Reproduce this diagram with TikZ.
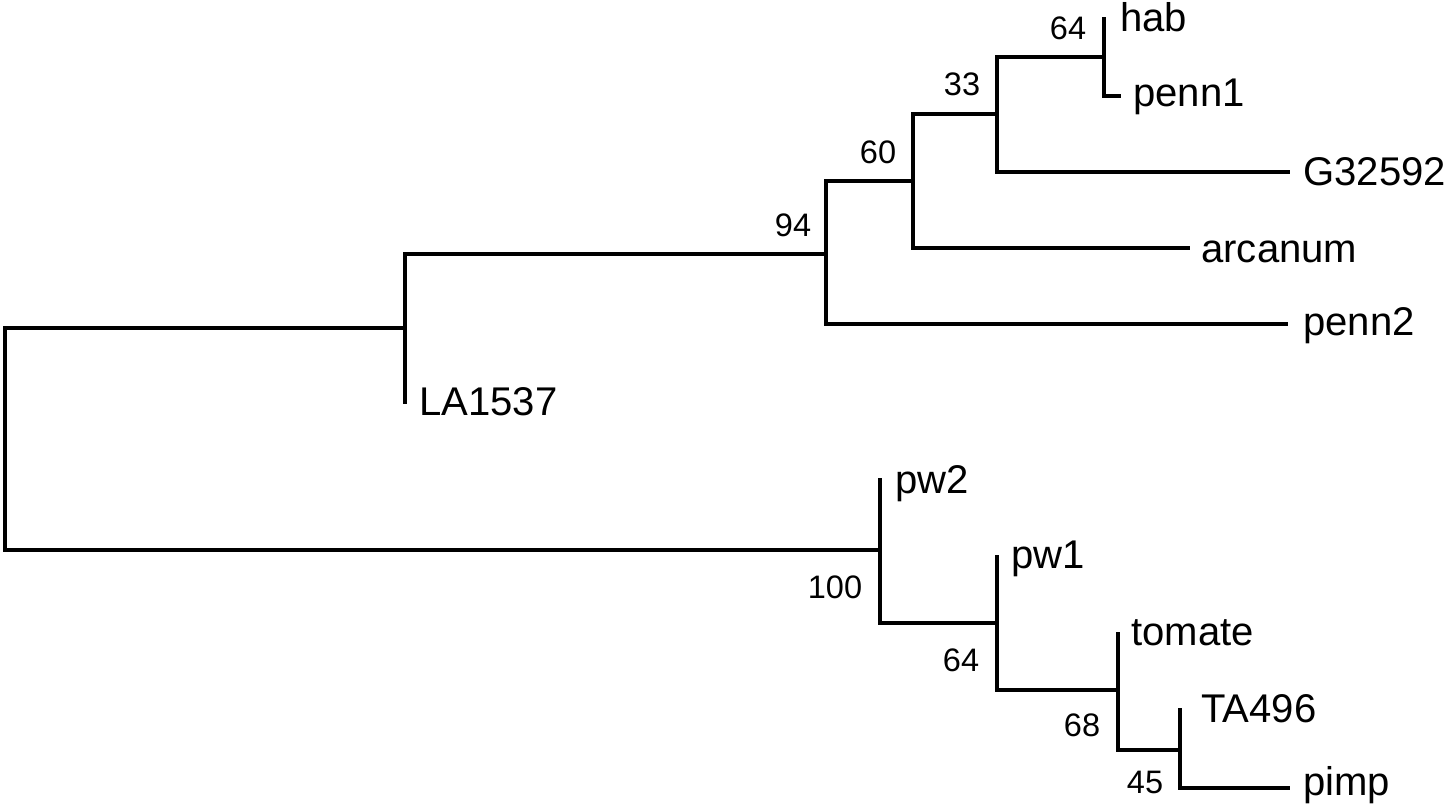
\documentclass[tikz,border=0pt]{standalone}
\usepackage{fontspec}
\setmainfont{Liberation Sans}
\usetikzlibrary{positioning, calc}

\tikzset{
  branch/.style={line width=2pt},
  taxon/.style={anchor=base west, inner sep=0pt, font=\fontsize{22.8}{27}\selectfont},
  boot/.style={inner sep=0pt, font=\fontsize{18.5}{22}\selectfont}
}

\begin{document}
\begin{tikzpicture}[x=0.02cm, y=-0.02cm]
	\useasboundingbox (0,0) rectangle (1453,811);
	% inner nodes
	\coordinate (root) at (5,440);
	\coordinate (nA) at (405,328);
	\coordinate (nB) at (826,254);
	\coordinate (nC) at (913,181);
	\coordinate (nD) at (997,114);
	\coordinate (nE) at (1104,57);
	\coordinate (mA) at (880,550);
	\coordinate (mB) at (997,623);
	\coordinate (mC) at (1118,690);
	\coordinate (mD) at (1180,750);
	% tips
	\coordinate (tHab) at (1104,17);
	\coordinate (tPennA) at (1121,96);
	\coordinate (tG) at (1290,172);
	\coordinate (tArc) at (1190,248);
	\coordinate (tPennB) at (1288,324);
	\coordinate (tLA) at (405,404);
	\coordinate (tPwB) at (880,478);
	\coordinate (tPwA) at (997,555);
	\coordinate (tTom) at (1118,632);
	\coordinate (tTA) at (1180,708);
	\coordinate (tPimp) at (1290,788);
	% branches
	\draw[branch] (root) |- (nA);
	\draw[branch] (root) |- (mA);
	\draw[branch] (nA) |- (nB);
	\draw[branch] (nA) |- (tLA);
	\draw[branch] (nB) |- (nC);
	\draw[branch] (nB) |- (tPennB);
	\draw[branch] (nC) |- (nD);
	\draw[branch] (nC) |- (tArc);
	\draw[branch] (nD) |- (nE);
	\draw[branch] (nD) |- (tG);
	\draw[branch] (nE) |- (tHab);
	\draw[branch] (nE) |- (tPennA);
	\draw[branch] (mA) |- (tPwB);
	\draw[branch] (mA) |- (mB);
	\draw[branch] (mB) |- (tPwA);
	\draw[branch] (mB) |- (mC);
	\draw[branch] (mC) |- (tTom);
	\draw[branch] (mC) |- (mD);
	\draw[branch] (mD) |- (tTA);
	\draw[branch] (mD) |- (tPimp);
	% taxa
	\node[taxon] (hab) at (1120,32) {hab};
	\node[taxon] (pennA) at (1133,107) {penn1};
	\node[taxon] (gLab) at (1303,185) {G32592};
	\node[taxon] (arc) at (1201,262) {arcanum};
	\node[taxon] (pennB) at (1303,335) {penn2};
	\node[taxon] (la) at (419,415) {LA1537};
	\node[taxon] (pwB) at (895,493) {pw2};
	\node[taxon] (pwA) at (1011,568) {pw1};
	\node[taxon] (tom) at (1131,645) {tomate};
	\node[taxon] (ta) at (1201,722) {TA496};
	\node[taxon] (pimp) at (1303,795) {pimp};
	% bootstrap values
	\node[boot] (bE) at (1068,28) {64};
	\node[boot] (bD) at (962,84) {33};
	\node[boot] (bC) at (878,152) {60};
	\node[boot] (bB) at (793,225) {94};
	\node[boot] (bA) at (835,587) {100};
	\node[boot] (bM) at (961,660) {64};
	\node[boot] (bN) at (1082,725) {68};
	\node[boot] (bP) at (1145,782) {45};
\end{tikzpicture}
\end{document}
